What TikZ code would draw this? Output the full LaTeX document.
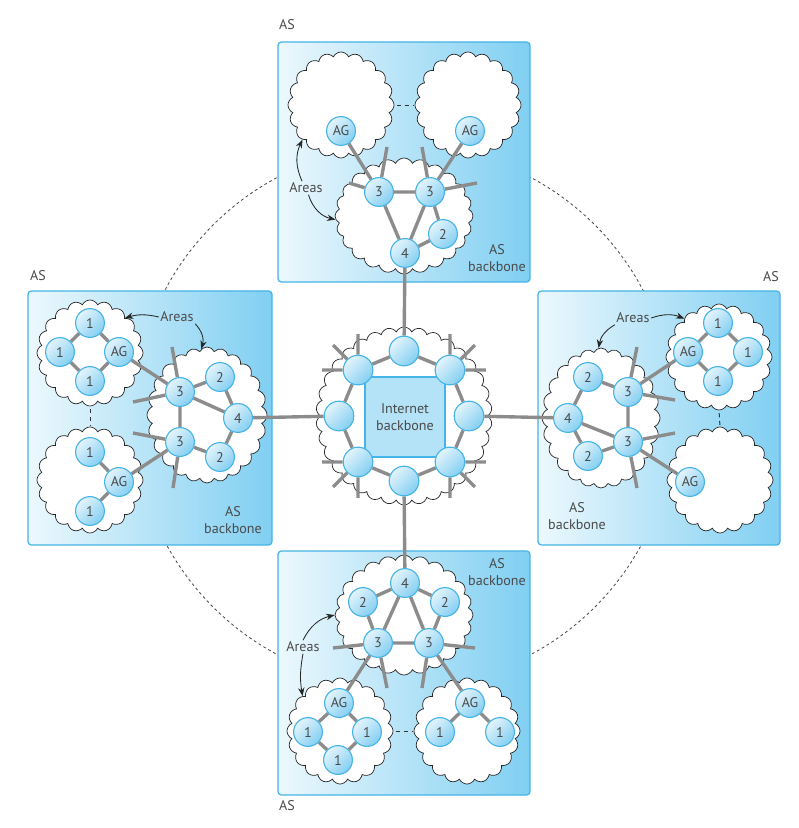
\documentclass[tikz,border=0pt]{standalone}
\usepackage{fontspec}
\setmainfont{PT Sans}
\usepackage{xcolor}
\usepackage{tikz}
\usetikzlibrary{shapes.symbols,arrows.meta,calc}

\definecolor{asL}{HTML}{ECF8FD}
\definecolor{asR}{HTML}{80CFF2}
\definecolor{edgeblue}{HTML}{45B4E6}
\definecolor{rtL}{HTML}{E4F4FC}
\definecolor{rtR}{HTML}{84CFF2}
\definecolor{coreblue}{HTML}{B4E2F7}
\definecolor{linkgray}{HTML}{8C8C8C}
\definecolor{txtgray}{HTML}{4A4A4A}

\pgfdeclarelayer{bg}
\pgfdeclarelayer{wires}
\pgfsetlayers{bg,wires,main}

\begin{document}
\begin{tikzpicture}[
    x=0.025cm, y=-0.025cm,
    asbox/.style={rectangle, draw=edgeblue, line width=0.9pt, rounded corners=2.5pt, left color=asL, right color=asR},
    area/.style={cloud, cloud puffs=20, cloud puff arc=130, aspect=1, draw=black!85, line width=0.5pt, fill=white, inner sep=0pt, minimum width=2.65cm, minimum height=2.65cm},
    bbarea/.style={area, cloud puffs=24},
    netarea/.style={area, cloud puffs=34, minimum width=4.4cm, minimum height=4.45cm},
    router/.style={circle, draw=edgeblue, line width=0.8pt, top color=rtL, bottom color=rtR, shading angle=45, minimum size=0.72cm, inner sep=0pt, font=\fontsize{10}{10}\selectfont, text=txtgray},
    core/.style={rectangle, draw=edgeblue, line width=0.8pt, fill=coreblue, minimum size=2cm, align=center, font=\fontsize{10}{12}\selectfont, text=txtgray},
    link/.style={draw=linkgray, line width=2.4pt},
    gap/.style={draw=black!80, line width=0.7pt, dash pattern=on 3pt off 2.5pt, shorten <=2pt, shorten >=1pt},
    txt/.style={font=\fontsize{10}{12.5}\selectfont, text=txtgray, align=center, inner sep=1pt},
    arrow/.style={-{Stealth[length=6pt, width=4.5pt]}, draw=black!85, line width=0.6pt}
]
    \useasboundingbox (0,0) rectangle (799,828);
    \coordinate (ctr) at (404,416);

    \begin{pgfonlayer}{bg}
        \draw[black!70, line width=0.6pt, dash pattern=on 2pt off 2pt] (ctr) circle[radius=6.75cm];
        \node[asbox, minimum width=6.3cm, minimum height=6cm] (tbox) at (404,162) {};
        \node[asbox, minimum width=6.1cm, minimum height=6.35cm] (lbox) at (150,418) {};
        \node[asbox, minimum width=6.05cm, minimum height=6.35cm] (rbox) at (659,418) {};
        \node[asbox, minimum width=6.3cm, minimum height=6.1cm] (bbox) at (404,673) {};

        \node[area] (tcl) at (341,105) {};
        \node[area] (tcr) at (468,105) {};
        \node[bbarea, minimum width=3.45cm, minimum height=2.9cm] (tbb) at (404,216) {};
        \node[area] (lcu) at (90,353) {};
        \node[area] (lcl) at (90,480) {};
        \node[bbarea, minimum width=3cm, minimum height=3.4cm] (lbb) at (207,415) {};
        \node[area] (rcu) at (719,357) {};
        \node[area] (rcl) at (720,480) {};
        \node[bbarea, minimum width=2.95cm, minimum height=3.5cm] (rbb) at (601,418) {};
        \node[bbarea, minimum width=3.45cm, minimum height=3cm] (bbb) at (404,615) {};
        \node[area] (bcl) at (340,731) {};
        \node[area] (bcr) at (467,731) {};
        \node[netarea] (inet) at (ctr) {};
    \end{pgfonlayer}

    \node[txt] (tlab) at (287,25) {AS};
    \node[txt] (llab) at (38,276) {AS};
    \node[txt] (rlab) at (771,277) {AS};
    \node[txt] (blab) at (287,806) {AS};

    \node[core] (corebox) at (405,417) {Internet\\backbone};
    \foreach \i in {0,...,7}
        \node[router, minimum size=0.74cm] (n\i) at ($(ctr)+(\i*45:65)$) {};

    \node[router] (tagl) at (341,131) {AG};
    \node[router] (tagr) at (470,131) {AG};
    \node[router] (t3l) at (379,192) {3};
    \node[router] (t3r) at (430,192) {3};
    \node[router] (t2) at (443,234) {2};
    \node[router] (t4) at (405,253) {4};

    \node[router] (lu1t) at (90,323) {1};
    \node[router] (lu1l) at (60,352) {1};
    \node[router] (lagu) at (119,352) {AG};
    \node[router] (lu1b) at (90,381) {1};
    \node[router] (ll1t) at (90,452) {1};
    \node[router] (lagl) at (119,482) {AG};
    \node[router] (ll1b) at (90,511) {1};
    \node[router] (l3u) at (180,392) {3};
    \node[router] (l2u) at (220,377) {2};
    \node[router] (l4) at (238,418) {4};
    \node[router] (l3l) at (180,442) {3};
    \node[router] (l2l) at (220,457) {2};

    \node[router] (ru1t) at (718,323) {1};
    \node[router] (ragu) at (688,352) {AG};
    \node[router] (ru1r) at (748,352) {1};
    \node[router] (ru1b) at (718,381) {1};
    \node[router] (ragl) at (690,482) {AG};
    \node[router] (r2u) at (588,377) {2};
    \node[router] (r3u) at (628,392) {3};
    \node[router] (r4) at (568,418) {4};
    \node[router] (r3l) at (628,442) {3};
    \node[router] (r2l) at (588,456) {2};

    \node[router] (b4) at (405,583) {4};
    \node[router] (b2l) at (363,602) {2};
    \node[router] (b2r) at (445,602) {2};
    \node[router] (b3l) at (378,643) {3};
    \node[router] (b3r) at (429,643) {3};
    \node[router] (bagl) at (339,703) {AG};
    \node[router] (bl1l) at (308,732) {1};
    \node[router] (bl1r) at (367,732) {1};
    \node[router] (bl1b) at (338,760) {1};
    \node[router] (bagr) at (470,703) {AG};
    \node[router] (br1l) at (440,732) {1};
    \node[router] (br1r) at (500,732) {1};

    \coordinate (ts1) at (349,183);
    \coordinate (ts2) at (387,147);
    \coordinate (ts3) at (422,147);
    \coordinate (ts4) at (477,183);
    \coordinate (ls1) at (172,347);
    \coordinate (ls2) at (133,402);
    \coordinate (ls3) at (133,433);
    \coordinate (ls4) at (173,488);
    \coordinate (rs1) at (637,347);
    \coordinate (rs2) at (675,400);
    \coordinate (rs3) at (675,433);
    \coordinate (rs4) at (637,488);
    \coordinate (bs1) at (333,648);
    \coordinate (bs2) at (387,688);
    \coordinate (bs3) at (422,688);
    \coordinate (bs4) at (475,648);

    \begin{pgfonlayer}{wires}
        \foreach \i/\j in {0/1,1/2,2/3,3/4,4/5,5/6,6/7,7/0}
            \draw[link] (n\i) -- (n\j);
        \foreach \i/\sx/\sy in {1/1/1, 3/-1/1, 5/-1/-1, 7/1/-1} {
            \coordinate (h\i) at ($(n\i)+(36*\sx,0)$);
            \coordinate (v\i) at ($(n\i)+(0,36*\sy)$);
            \coordinate (d\i) at ($(n\i)+(25*\sx,25*\sy)$);
            \draw[link] (n\i) -- (h\i) (n\i) -- (v\i) (n\i) -- (d\i);
        }
        \draw[link] (t4) -- (n6) (b4) -- (n2) (l4) -- (n4) (r4) -- (n0);

        \draw[link] (tagl) -- (t3l) (tagr) -- (t3r) (t3l) -- (t3r) (t3l) -- (t4) (t3r) -- (t4) (t3r) -- (t2) (t2) -- (t4);
        \draw[link] (t3l) -- (ts1) (t3l) -- (ts2) (t3r) -- (ts3) (t3r) -- (ts4);

        \draw[link] (lu1t) -- (lagu) -- (lu1b) -- (lu1l) -- (lu1t) (ll1t) -- (lagl) -- (ll1b);
        \draw[link] (lagu) -- (l3u) (lagl) -- (l3l) (l3u) -- (l3l) (l3u) -- (l2u) (l2u) -- (l4) (l3u) -- (l4) (l4) -- (l2l) (l2l) -- (l3l);
        \draw[link] (l3u) -- (ls1) (l3u) -- (ls2) (l3l) -- (ls3) (l3l) -- (ls4);

        \draw[link] (ragu) -- (ru1t) -- (ru1r) -- (ru1b) -- (ragu);
        \draw[link] (ragu) -- (r3u) (r3l) -- (ragl) (r4) -- (r2u) (r2u) -- (r3u) (r3u) -- (r3l) (r4) -- (r3l) (r3l) -- (r2l) (r2l) -- (r4);
        \draw[link] (r3u) -- (rs1) (r3u) -- (rs2) (r3l) -- (rs3) (r3l) -- (rs4);

        \draw[link] (b4) -- (b2l) (b4) -- (b2r) (b2l) -- (b3l) (b2r) -- (b3r) (b4) -- (b3l) (b4) -- (b3r) (b3l) -- (b3r) (b3l) -- (bagl) (b3r) -- (bagr);
        \draw[link] (bagl) -- (bl1l) -- (bl1b) -- (bl1r) -- (bagl) (bagr) -- (br1l) (bagr) -- (br1r);
        \draw[link] (b3l) -- (bs1) (b3l) -- (bs2) (b3r) -- (bs3) (b3r) -- (bs4);
    \end{pgfonlayer}

    \draw[gap] (tcl.east) -- (tcr.west);
    \draw[gap] (lcu.south) -- (lcl.north);
    \draw[gap] (rcu.south) -- (rcl.north);
    \draw[gap] (bcl.east) -- (bcr.west);

    \node[txt] (tar) at (306,188) {Areas};
    \node[txt] (lar) at (177,317) {Areas};
    \node[txt] (rar) at (633,318) {Areas};
    \node[txt] (bar) at (303,647) {Areas};
    \draw[arrow] (tar.120) to[bend left=25] (tcl.222);
    \draw[arrow] (tar.290) to[bend right=30] (tbb.183);
    \draw[arrow] (lar.west) to[bend right=15] (lcu.45);
    \draw[arrow] (lar.south east) to[bend left=30] (lbb.95);
    \draw[arrow] (rar.east) to[bend left=20] (rcu.132);
    \draw[arrow] (rar.south west) to[bend right=25] (rbb.92);
    \draw[arrow] (bar.north) to[bend left=25] (bbb.180);
    \draw[arrow] (bar.south) to[bend right=10] (bcl.137);

    \node[txt] (tbl) at (497,258) {AS\\backbone};
    \node[txt] (lbl) at (233,520) {AS\\backbone};
    \node[txt] (rbl) at (577,516) {AS\\backbone};
    \node[txt] (bbl) at (497,572) {AS\\backbone};
\end{tikzpicture}
\end{document}
